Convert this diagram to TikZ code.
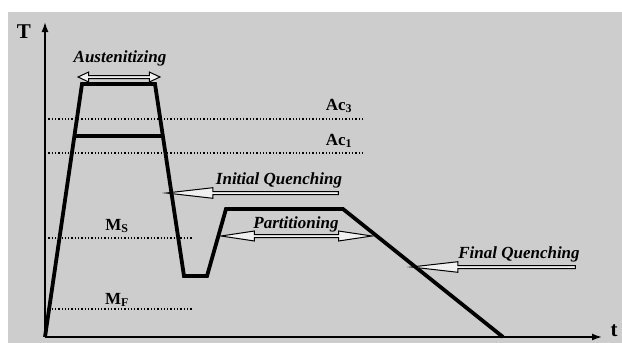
\documentclass[tikz,border=0pt]{standalone}
\usepackage{fontspec}
\setmainfont{Liberation Serif}
\usetikzlibrary{arrows.meta}
\usetikzlibrary{shapes.arrows}
\tikzset{>={Latex[length=10pt,width=7pt]}}
\definecolor{bg}{HTML}{CDCDCD}
\definecolor{hl}{HTML}{F0F0F0}
\tikzstyle{curve}=[line width=3.8pt,line join=miter]
\tikzstyle{level}=[dotted,line width=1.3pt]
\tikzstyle{phase}=[font=\fontsize{17}{17}\selectfont\bfseries\itshape]
\tikzstyle{temp}=[font=\fontsize{17}{17}\selectfont\bfseries]
\tikzstyle{hollow}=[single arrow,draw,fill=hl,line width=1pt,inner sep=1pt,
  single arrow head extend=3.8pt,shape border rotate=180]
\tikzstyle{hollow2}=[double arrow,draw,fill=hl,line width=1pt,inner sep=1pt,
  double arrow head extend=3.5pt]

\begin{document}
\begin{tikzpicture}[x=1pt,y=-1pt]
  \useasboundingbox (0,0) rectangle (622,343);
  \fill[white] (0,0) rectangle (622,343);
  \fill[bg] (8,12) rectangle (622,343);
  % critical temperatures
  \draw[level] (45,119) -- (363,119);
  \draw[level] (45,153) -- (363,153);
  \draw[level] (45,238) -- (193,238);
  \draw[level] (45,309) -- (193,309);
  \node[temp] (ac3) at (339,106) {Ac\textsubscript{3}};
  \node[temp] (ac1) at (339,141) {Ac\textsubscript{1}};
  \node[temp] (ms) at (117,226) {M\textsubscript{S}};
  \node[temp] (mf) at (117,300) {M\textsubscript{F}};
  % axes
  \coordinate (o) at (45,337);
  \draw[line width=1.5pt,->] (o) -- (45,22);
  \draw[line width=1.5pt,->] (o) -- (602,337);
  \node[font=\fontsize{21}{21}\selectfont\bfseries] (T) at (24,32) {T};
  \node[font=\fontsize{21}{21}\selectfont\bfseries] (t) at (614,331) {t};
  % heat treatment
  \draw[curve] (o) -- (82,84) -- (155,84) -- (184,276) -- (207,276)
    -- (226,209) -- (343,209) -- (503,337);
  \draw[curve] (74.4,136) -- (162.9,136);
  % phases
  \node[hollow2,minimum height=82pt,double arrow tip angle=50] (aa) at (119,77) {};
  \node[phase] (aus) at (120,58) {Austenitizing};
  \node[hollow,minimum height=172pt,single arrow tip angle=13] (ia) at (259,193) {};
  \node[phase] (iq) at (279,180) {Initial Quenching};
  \node[hollow2,minimum height=151pt,double arrow tip angle=17] (pa) at (296.5,236) {};
  \node[phase] (pt) at (296,224) {Partitioning};
  \node[hollow,minimum height=164pt,single arrow tip angle=13] (fa) at (500,267) {};
  \node[phase] (fq) at (519,254) {Final Quenching};
\end{tikzpicture}
\end{document}
